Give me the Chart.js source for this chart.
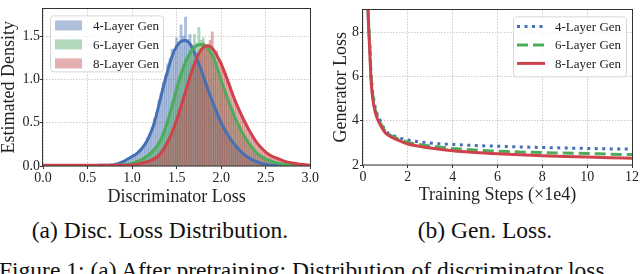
<!DOCTYPE html>
<html><head><meta charset="utf-8">
<script src="https://cdn.jsdelivr.net/npm/chart.js@4.4.0/dist/chart.umd.min.js"></script>
<style>
html,body{margin:0;padding:0;background:#fff;width:640px;height:274px;overflow:hidden;}
#wrap{position:relative;width:640px;height:274px;overflow:hidden;background:#fff;}
canvas{position:absolute;top:0;}
.cap{position:absolute;font-family:'Liberation Serif','Times New Roman',serif;font-size:23.5px;line-height:23.5px;color:#111;white-space:nowrap;}
</style></head><body>
<div id="wrap">
<canvas id="c1" width="320" height="210" style="left:0;width:320px;height:210px"></canvas>
<canvas id="c2" width="320" height="210" style="left:320px;width:320px;height:210px"></canvas>
<div class="cap" style="left:0;width:320px;text-align:center;top:219px">(a) Disc. Loss Distribution.</div>
<div class="cap" style="left:320px;width:330px;text-align:center;top:219px">(b) Gen. Loss.</div>
<div class="cap" style="left:-1px;top:259px">Figure 1: (a) After pretraining: Distribution of discriminator loss</div>
</div>
<script>
// ---------- DATA ----------
const seriesNames = ['4-Layer Gen', '6-Layer Gen', '8-Layer Gen'];

// Panel (a): histogram bins (left edges) and densities
const histBins = [0.75,0.775,0.8,0.825,0.85,0.875,0.9,0.925,0.95,0.975,1.0,1.025,1.05,1.075,1.1,1.125,1.15,1.175,1.2,1.225,1.25,1.275,1.3,1.325,1.35,1.375,1.4,1.425,1.45,1.475,1.5,1.525,1.55,1.575,1.6,1.625,1.65,1.675,1.7,1.725,1.75,1.775,1.8,1.825,1.85,1.875,1.9,1.925,1.95,1.975,2.0,2.025,2.05,2.075,2.1,2.125,2.15,2.175,2.2,2.225,2.25,2.275,2.3,2.325,2.35,2.375,2.4,2.425,2.45,2.475,2.5,2.525,2.55,2.575,2.6,2.625,2.65,2.675,2.7,2.725,2.75,2.775,2.8,2.825,2.85,2.875,2.9,2.925,2.95,2.975];
const hist4 = [0.01,0.01,0.02,0.02,0.03,0.05,0.06,0.07,0.09,0.10,
0.12,0.13,0.15,0.18,0.20,0.24,0.27,0.33,0.38,0.44,
0.55,0.62,0.76,0.84,0.97,1.05,1.18,1.24,1.35,1.30,
1.48,1.42,1.63,1.50,1.72,1.46,1.52,1.38,1.33,1.22,
1.20,1.10,1.06,0.96,0.90,0.82,0.76,0.70,0.63,0.56,
0.52,0.45,0.41,0.36,0.32,0.28,0.25,0.22,0.19,0.16,
0.14,0.12,0.10,0.09,0.08,0.06,0.05,0.04,0.03,0.025,
0.02,0.015,0.01,0.01,0.008,0.006,0.005,0.004,0.003,0.002,
0.002,0.001,0.001,0,0,0,0,0,0,0];
const hist6 = [0.00,0.01,0.01,0.01,0.01,0.01,0.01,0.02,0.02,0.03,
0.03,0.04,0.05,0.06,0.07,0.08,0.10,0.12,0.14,0.16,
0.19,0.22,0.27,0.31,0.38,0.45,0.54,0.62,0.72,0.82,
0.93,1.02,1.10,1.16,1.25,1.28,1.34,1.40,1.52,1.42,
1.60,1.45,1.48,1.38,1.40,1.30,1.29,1.20,1.16,1.06,
1.00,0.92,0.85,0.77,0.71,0.64,0.58,0.52,0.47,0.41,
0.37,0.32,0.28,0.25,0.21,0.18,0.15,0.13,0.11,0.10,
0.08,0.07,0.06,0.05,0.04,0.035,0.03,0.025,0.02,0.018,
0.015,0.012,0.01,0.008,0.006,0.005,0.004,0.003,0.002,0.001];
const hist8 = [0.005,0.005,0.005,0.005,0.005,0.005,0.006,0.008,0.01,0.01,
0.01,0.015,0.02,0.025,0.03,0.04,0.05,0.06,0.07,0.085,
0.10,0.12,0.14,0.16,0.19,0.23,0.27,0.32,0.38,0.45,
0.52,0.60,0.68,0.77,0.86,0.95,1.03,1.12,1.20,1.25,
1.31,1.36,1.42,1.38,1.40,1.45,1.55,1.30,1.33,1.22,
1.20,1.12,1.07,0.98,0.92,0.84,0.78,0.70,0.65,0.58,
0.52,0.47,0.43,0.38,0.34,0.30,0.27,0.24,0.21,0.19,
0.17,0.15,0.13,0.115,0.10,0.09,0.08,0.07,0.06,0.052,
0.045,0.038,0.03,0.026,0.022,0.018,0.015,0.012,0.01,0.008];

// Panel (a): KDE curves
const kdeX = [0,0.05,0.1,0.15,0.2,0.25,0.3,0.35,0.4,0.45,0.5,0.55,0.6,0.65,0.7,0.75,0.8,0.85,0.9,0.95,1.0,1.05,1.1,1.15,1.2,1.25,1.3,1.35,1.4,1.45,1.5,1.55,1.6,1.65,1.7,1.75,1.8,1.85,1.9,1.95,2.0,2.05,2.1,2.15,2.2,2.25,2.3,2.35,2.4,2.45,2.5,2.55,2.6,2.65,2.7,2.75,2.8,2.85,2.9,2.95,3.0];
const kde4 = [0.003,0.003,0.003,0.003,0.004,0.004,0.004,0.005,0.005,0.005,0.006,0.006,0.007,0.008,0.009,
0.01,0.015,0.03,0.05,0.08,0.11,0.14,0.19,0.26,0.36,
0.50,0.70,0.91,1.10,1.27,1.38,1.44,1.45,1.41,1.31,
1.18,1.04,0.89,0.75,0.62,0.50,0.40,0.32,0.25,0.19,
0.14,0.10,0.07,0.05,0.03,0.02,0.012,0.008,0.005,0.003,
0.002,0.001,0.001,0.001,0.001,0.001];
const kde6 = [0.002,0.002,0.002,0.002,0.002,0.002,0.002,0.002,0.002,0.002,0.002,0.002,0.002,0.002,0.002,
0.004,0.006,0.008,0.01,0.02,0.03,0.05,0.07,0.10,0.14,
0.19,0.26,0.37,0.52,0.70,0.89,1.06,1.20,1.30,1.37,
1.40,1.40,1.36,1.28,1.15,0.99,0.84,0.70,0.57,0.46,
0.36,0.28,0.21,0.15,0.11,0.08,0.06,0.04,0.03,0.02,
0.015,0.01,0.007,0.005,0.003,0.002];
const kde8 = [0.01,0.01,0.01,0.01,0.01,0.01,0.01,0.01,0.01,0.01,0.01,0.01,0.01,0.01,0.01,
0.01,0.01,0.01,0.01,0.01,0.012,0.02,0.03,0.045,0.06,
0.085,0.12,0.19,0.28,0.39,0.53,0.69,0.86,1.03,1.18,
1.30,1.37,1.39,1.36,1.28,1.18,1.05,0.91,0.77,0.65,
0.54,0.44,0.35,0.27,0.21,0.16,0.125,0.10,0.08,0.06,
0.045,0.035,0.025,0.02,0.015,0.01];
const lossTicks = [0, 0.5, 1.0, 1.5, 2.0, 2.5, 3.0];
const densityTicks = [0, 0.5, 1.0, 1.5];

// Panel (b): generator loss vs training steps (x1e4)
const steps = [0.2,0.25,0.3,0.35,0.4,0.5,0.6,0.75,1.0,1.25,1.5,2,2.5,3,4,5,6,7,8,9,10,11,12];
const gen4 = [9.8,8.5,7.5,6.3,5.6,4.85,4.4,4.05,3.55,3.38,3.27,3.13,3.05,2.99,2.93,2.88,2.85,2.82,2.79,2.77,2.75,2.73,2.72];
const gen6 = [9.7,8.4,7.4,6.2,5.5,4.75,4.3,3.95,3.52,3.33,3.2,3.03,2.93,2.86,2.75,2.68,2.63,2.59,2.56,2.54,2.52,2.49,2.47];
const gen8 = [9.6,8.2,7.2,6.0,5.3,4.6,4.2,3.85,3.45,3.27,3.15,2.95,2.85,2.77,2.65,2.57,2.51,2.46,2.42,2.39,2.36,2.33,2.31];
const stepTicks = [0, 2, 4, 6, 8, 10, 12];
const genLossTicks = [2, 4, 6, 8];

// ---------- STYLE ----------
const FONT = "'Liberation Serif','Times New Roman',serif";
const C_BLUE = '#4470b5', C_GREEN = '#4dac5a', C_RED = '#cf424c';
const H_BLUE = 'rgba(76,114,176,0.45)', H_GREEN = 'rgba(85,168,104,0.45)', H_RED = 'rgba(196,78,82,0.45)';
Chart.defaults.font.family = FONT;
Chart.defaults.color = '#222';

const pts = (xs, ys) => xs.map((x, i) => ({x, y: ys[i]}));

const framePlugin = {
  id: 'frame',
  afterDraw(chart) {
    const {ctx, chartArea: a} = chart;
    ctx.save();
    ctx.strokeStyle = '#333';
    ctx.lineWidth = 1;
    ctx.strokeRect(Math.round(a.left) - 0.5, Math.round(a.top) + 0.5, Math.round(a.right - a.left) + 1, Math.round(a.bottom - a.top) - 0.5);
    ctx.restore();
  }
};

const legendPlugin = {
  id: 'boxLegend',
  afterDatasetsDraw(chart, args, o) {
    if (!o || !o.items) return;
    const ctx = chart.ctx, a = chart.chartArea;
    const bx = o.anchor === 'left' ? a.left + o.dx : a.right - o.dx - o.w;
    const by = a.top + o.dy;
    ctx.save();
    ctx.beginPath();
    ctx.roundRect(bx + 0.5, by + 0.5, o.w, o.h, 3);
    ctx.fillStyle = 'rgba(255,255,255,0.8)';
    ctx.fill();
    ctx.strokeStyle = '#d6d6d6';
    ctx.lineWidth = 1;
    ctx.stroke();
    ctx.font = '13px ' + FONT;
    ctx.textBaseline = 'middle';
    o.items.forEach((it, i) => {
      const ds = chart.data.datasets[it.ds];
      const y = by + o.row0 + i * o.rowGap;
      const sx = bx + o.sampleX;
      if (it.kind === 'patch') {
        ctx.fillStyle = ds.backgroundColor;
        ctx.fillRect(sx, y - 5, o.sampleW, 10);
      } else {
        ctx.strokeStyle = ds.borderColor;
        ctx.lineWidth = 3;
        ctx.lineCap = 'butt';
        ctx.setLineDash(ds.borderDash || []);
        ctx.beginPath(); ctx.moveTo(sx, y); ctx.lineTo(sx + o.sampleW, y); ctx.stroke();
        ctx.setLineDash([]);
      }
      ctx.fillStyle = '#222';
      ctx.fillText(ds.label, bx + o.textX, y + 1);
    });
    ctx.restore();
  }
};

const gridCommon = {color: 'rgba(170,170,170,0.75)', lineWidth: 0.8, tickLength: 3, tickColor: '#333', tickWidth: 1, tickBorderDash: [], offset: false};
const borderCommon = {display: false, dash: [1.5, 1.5]};

// ---------- PANEL (a) ----------
new Chart(document.getElementById('c1'), {
  type: 'bar',
  data: {
    datasets: [
      {type: 'line', label: seriesNames[2], data: pts(kdeX, kde8), borderColor: C_RED, borderWidth: 3, pointRadius: 0, cubicInterpolationMode: 'monotone', fill: false, order: 0},
      {type: 'line', label: seriesNames[1], data: pts(kdeX, kde6), borderColor: C_GREEN, borderWidth: 3, pointRadius: 0, cubicInterpolationMode: 'monotone', fill: false, order: 1},
      {type: 'line', label: seriesNames[0], data: pts(kdeX, kde4), borderColor: C_BLUE, borderWidth: 3, pointRadius: 0, cubicInterpolationMode: 'monotone', fill: false, order: 2},
      {type: 'bar', label: seriesNames[2], data: pts(histBins, hist8), backgroundColor: H_RED, borderWidth: 0, grouped: false, barPercentage: 1, categoryPercentage: 1, order: 3},
      {type: 'bar', label: seriesNames[1], data: pts(histBins, hist6), backgroundColor: H_GREEN, borderWidth: 0, grouped: false, barPercentage: 1, categoryPercentage: 1, order: 4},
      {type: 'bar', label: seriesNames[0], data: pts(histBins, hist4), backgroundColor: H_BLUE, borderWidth: 0, grouped: false, barPercentage: 1, categoryPercentage: 1, order: 5}
    ]
  },
  options: {
    responsive: false, animation: false, devicePixelRatio: 1,
    layout: {padding: {left: 0, right: 8, top: 0, bottom: 0}},
    plugins: {
      legend: {display: false}, tooltip: {enabled: false},
      boxLegend: {anchor: 'left', dx: 7, dy: 7, w: 113, h: 56, row0: 10, rowGap: 19, sampleX: 5, sampleW: 27, textX: 43,
        items: [{ds: 5, kind: 'patch'}, {ds: 4, kind: 'patch'}, {ds: 3, kind: 'patch'}]}
    },
    scales: {
      x: {type: 'linear', min: 0, max: 3, offset: false,
        afterFit(s) { s.height = 44; },
        afterBuildTicks(s) { s.ticks = lossTicks.map(v => ({value: v})); },
        ticks: {font: {family: FONT, size: 14}, padding: 1, maxRotation: 0, autoSkip: false, callback: v => Number(v).toFixed(1)},
        grid: gridCommon, border: borderCommon,
        title: {display: true, text: 'Discriminator Loss', font: {family: FONT, size: 18, lineHeight: 1}, padding: {top: 0, bottom: 4}}
      },
      y: {type: 'linear', min: 0, max: 1.82,
        afterFit(s) { s.width = 43; },
        afterBuildTicks(s) { s.ticks = densityTicks.map(v => ({value: v})); },
        ticks: {font: {family: FONT, size: 14}, padding: 0, callback: v => Number(v).toFixed(1)},
        grid: gridCommon, border: borderCommon,
        title: {display: true, text: 'Estimated Density', font: {family: FONT, size: 18, lineHeight: 1}, padding: {top: 0, bottom: 0}}
      }
    }
  },
  plugins: [legendPlugin, framePlugin]
});

// ---------- PANEL (b) ----------
new Chart(document.getElementById('c2'), {
  type: 'line',
  data: {
    datasets: [
      {label: seriesNames[2], data: pts(steps, gen8), borderColor: C_RED, borderWidth: 3, pointRadius: 0, cubicInterpolationMode: 'monotone', order: 0},
      {label: seriesNames[1], data: pts(steps, gen6), borderColor: C_GREEN, borderWidth: 3, borderDash: [11, 5], borderCapStyle: 'butt', pointRadius: 0, cubicInterpolationMode: 'monotone', order: 1},
      {label: seriesNames[0], data: pts(steps, gen4), borderColor: C_BLUE, borderWidth: 3, borderDash: [3, 4.5], borderCapStyle: 'butt', pointRadius: 0, cubicInterpolationMode: 'monotone', order: 2}
    ]
  },
  options: {
    responsive: false, animation: false, devicePixelRatio: 1,
    layout: {padding: {left: 0, right: 8, top: 0, bottom: 0}},
    plugins: {
      legend: {display: false}, tooltip: {enabled: false},
      boxLegend: {anchor: 'right', dx: 6, dy: 7, w: 113, h: 60, row0: 10, rowGap: 18.5, sampleX: 4, sampleW: 28, textX: 42,
        items: [{ds: 2, kind: 'line'}, {ds: 1, kind: 'line'}, {ds: 0, kind: 'line'}]}
    },
    scales: {
      x: {type: 'linear', min: 0, max: 12,
        afterFit(s) { s.height = 45; },
        afterBuildTicks(s) { s.ticks = stepTicks.map(v => ({value: v})); },
        ticks: {font: {family: FONT, size: 14}, padding: 1, maxRotation: 0, autoSkip: false, callback: v => String(v)},
        grid: gridCommon, border: borderCommon,
        title: {display: true, text: 'Training Steps (×1e4)', font: {family: FONT, size: 18, lineHeight: 1}, padding: {top: 0, bottom: 5.5}}
      },
      y: {type: 'linear', min: 2, max: 9.04,
        afterFit(s) { s.width = 43; },
        afterBuildTicks(s) { s.ticks = genLossTicks.map(v => ({value: v})); },
        ticks: {font: {family: FONT, size: 14}, padding: 1, callback: v => String(v)},
        grid: gridCommon, border: borderCommon,
        title: {display: true, text: 'Generator Loss', font: {family: FONT, size: 18, lineHeight: 1}, padding: {top: 12, bottom: 0}}
      }
    }
  },
  plugins: [legendPlugin, framePlugin]
});
</script>
</body></html>
